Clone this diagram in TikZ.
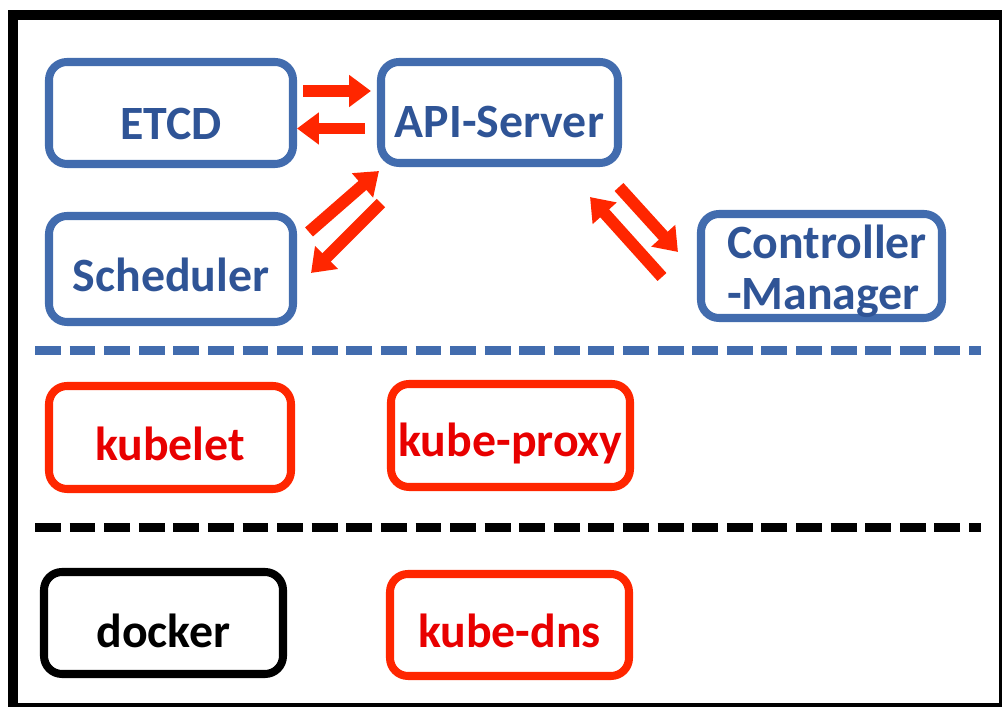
\documentclass[tikz,border=0pt]{standalone}
\usepackage{fontspec}
\setmainfont{Carlito}
\usetikzlibrary{arrows.meta}

\begin{document}
\begin{tikzpicture}[x=0.025cm, y=-0.025cm,
    box/.style={draw=#1, line width=5.7pt, rounded corners=0.45cm, inner sep=0pt,
        font=\bfseries\fontsize{34}{37}\selectfont, text height=32.6pt, text depth=0pt},
    lbl/.style={inner sep=0pt, font=\bfseries\fontsize{34}{36.5}\selectfont},
    flow/.style={draw=Acolor, line width=8.5pt, -{Triangle[length=15.6pt, width=22pt, fill=Acolor]}},
    sepline/.style={line width=6.4pt, dash pattern=on 18.4pt off 6.2pt}]
    \definecolor{Bcolor}{RGB}{66,108,174}
    \definecolor{Tblue}{RGB}{47,84,150}
    \definecolor{Acolor}{RGB}{255,38,0}
    \definecolor{Tred}{RGB}{232,0,0}
    \def\px{0.025cm}
    \useasboundingbox (0,0) rectangle (1002,707);
    % outer frame
    \draw[line width=7.1pt] (13,15) rectangle (1004,708);
    % master components
    \node[box=Bcolor, text=Tblue, minimum width=244*\px, minimum height=102*\px, text height=37pt] (etcd) at (171,113) {ETCD};
    \node[box=Bcolor, text=Tblue, minimum width=237*\px, minimum height=101*\px, text height=35pt] (api) at (499.5,112.5) {API-Server};
    \node[box=Bcolor, text=Tblue, minimum width=244*\px, minimum height=106*\px] (sched) at (171,269) {Scheduler};
    \node[box=Bcolor, minimum width=241*\px, minimum height=104*\px] (ctrl) at (821.5,266) {};
    \begin{scope}
        \clip[rounded corners=0.35cm] ([shift={(4,-4)}]ctrl.south west) rectangle ([shift={(-4,4)}]ctrl.north east);
        \node[lbl, text=Tblue, align=left, anchor=base west] (ctrltxt) at (727,310) {Controller\\-Manager};
    \end{scope}
    \draw[flow] ([shift={(6,-22)}]etcd.east) -- ([shift={(-6,-21.5)}]api.west);
    \draw[flow] ([shift={(-12,16)}]api.west) -- ([shift={(0,15.5)}]etcd.east);
    \draw[flow] ([shift={(12,20)}]sched.north east) -- ([shift={(2,4)}]api.south west);
    \draw[flow] ([shift={(4,36)}]api.south west) -- ([shift={(14,4)}]sched.east);
    \draw[flow] ([shift={(-3,20)}]api.south east) -- ([shift={(-19,-14)}]ctrl.west);
    \draw[flow] ([shift={(-35,11)}]ctrl.west) -- ([shift={(-32,30)}]api.south east);
    % separators
    \coordinate (sepAl) at (35,350.5);
    \coordinate (sepAr) at (981,350.5);
    \coordinate (sepBl) at (35,527.5);
    \coordinate (sepBr) at (981,527.5);
    \draw[sepline, Bcolor] (sepAl) -- (sepAr);
    \draw[sepline, black] (sepBl) -- (sepBr);
    % node components
    \node[box=Acolor, text=Tred, minimum width=242*\px, minimum height=103*\px] (kubelet) at (170,437.5) {kubelet};
    \node[box=Acolor, text=Tred, minimum width=239*\px, minimum height=103*\px, text height=30pt] (proxy) at (510.5,435.5) {kube-proxy};
    \node[box=black, text=black, minimum width=239*\px, minimum height=102*\px, text height=35pt] (docker) at (163.5,623) {docker};
    \node[box=Acolor, text=Tred, minimum width=239*\px, minimum height=102*\px] (dns) at (509.5,625) {kube-dns};
\end{tikzpicture}
\end{document}
